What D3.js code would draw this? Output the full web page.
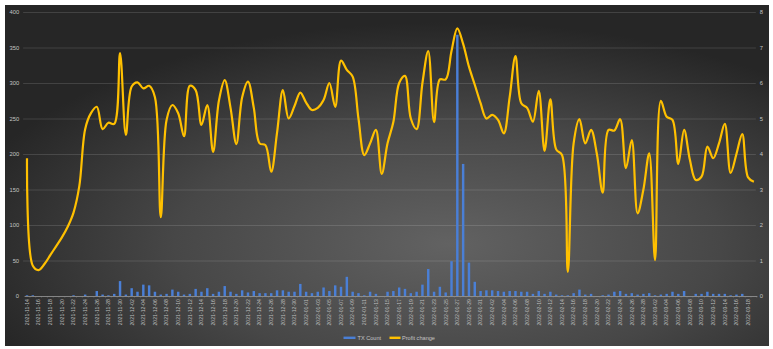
<!DOCTYPE html>
<html><head><meta charset="utf-8">
<script src="https://cdn.jsdelivr.net/npm/d3@7"></script>
<style>
html,body{margin:0;padding:0;background:#fff;}
svg{display:block;font-family:"Liberation Sans",Arial,sans-serif;}
</style></head>
<body><svg id="c" width="773" height="349"></svg>
<script>
const startDate = "2021-11-14";
const endDate = "2022-03-19";
const leftTicks = [0,50,100,150,200,250,300,350,400];
const rightTicks = [0,1,2,3,4,5,6,7,8];
const seriesNames = ["TX Count","Profit change"];

const txCount = [1,1,0,0,0,0,0,0,1,0,2,0,7,2,1,3,21,2,11,6,16,15,6,2,3,9,6,2,3,10,
6,11,3,6,14,6,3,8,5,7,4,4,4,8,8,6,6,17,6,4,6,12,7,15,13,27,6,4,1,6,
3,0,6,7,12,10,4,6,16,38,6,13,5,49,368,186,47,20,7,8,8,7,6,7,7,6,6,3,7,3,
6,2,1,1,4,9,2,3,0,1,2,6,7,3,4,2,3,4,1,2,3,6,3,7,0,3,3,6,3,3,
3,1,2,3,0,0];

const profitChange = [3.88,0.85,0.73,0.9,1.15,1.4,1.65,1.95,2.35,3.1,4.7,5.15,5.33,4.7,4.88,4.85,6.84,4.54,5.9,6.02,
5.85,5.92,5.6,2.22,4.96,5.38,5.15,4.5,5.92,5.8,4.82,5.38,4.06,5.5,6.08,5.3,4.28,5.6,6.04,5.3,
4.3,4.25,3.5,4.6,5.8,5.0,5.35,5.73,5.45,5.24,5.3,5.52,6.0,5.33,6.63,6.37,6.18,5.0,3.97,4.3,
4.68,3.44,4.3,4.9,6.0,6.2,5.0,4.7,6.0,6.9,4.9,6.1,6.1,6.9,7.54,7.1,6.46,5.95,5.43,5.0,
5.1,4.96,4.58,5.6,6.76,5.43,5.3,4.91,5.78,4.09,5.54,4.13,3.97,0.68,4.3,4.98,4.3,4.68,4.0,2.91,
4.68,4.66,4.98,3.6,4.39,2.33,3.0,4.02,1.01,5.5,5.05,4.96,3.72,4.68,3.83,3.27,3.36,4.21,3.88,4.3,
4.85,3.47,4.0,4.56,3.34,3.22];

const fmt = d3.utcFormat("%Y-%m-%d");
const parse = d3.utcParse("%Y-%m-%d");
const dates = d3.utcDay.range(parse(startDate), d3.utcDay.offset(parse(endDate),1)).map(fmt);
const data = dates.map((d,i)=>({date:d, tx:txCount[i], profit:profitChange[i]}));

const svg = d3.select("#c");
const defs = svg.append("defs");
const rg = defs.append("radialGradient").attr("id","bg")
  .attr("cx","58%").attr("cy","70%").attr("r","65%");
rg.append("stop").attr("offset","0%").attr("stop-color","#626262");
rg.append("stop").attr("offset","55%").attr("stop-color","#474747");
rg.append("stop").attr("offset","100%").attr("stop-color","#262626");

svg.append("rect").attr("x",5).attr("y",5).attr("width",764).attr("height",341).attr("fill","url(#bg)");

const x0 = 24.1, x1 = 756.8, yTop = 12, yBot = 296;
const x = d3.scaleBand().domain(dates).range([x0,x1]).paddingInner(0.58).paddingOuter(0.29);
const yL = d3.scaleLinear().domain([0,400]).range([yBot,yTop]);
const yR = d3.scaleLinear().domain([0,8]).range([yBot,yTop]);

// gridlines
svg.append("g").selectAll("line").data(leftTicks.slice(1)).join("line")
  .attr("x1",x0-1).attr("x2",x1-1).attr("y1",d=>yL(d)+0.5).attr("y2",d=>yL(d)+0.5)
  .attr("stroke","#ffffff").attr("stroke-opacity",0.13).attr("stroke-width",1);

// left axis
const gl = svg.append("g").attr("transform",`translate(${x0-5},0)`)
  .call(d3.axisLeft(yL).tickValues(leftTicks).tickSize(0).tickPadding(0));
gl.select(".domain").remove();
gl.selectAll("text").attr("fill","#c4c4c4").attr("font-size","5.8px");

// right axis
const gr = svg.append("g").attr("transform",`translate(${x1+3},0)`)
  .call(d3.axisRight(yR).tickValues(rightTicks).tickSize(0).tickPadding(0));
gr.select(".domain").remove();
gr.selectAll("text").attr("fill","#c4c4c4").attr("font-size","5.8px");

// bars
svg.append("g").selectAll("rect").data(data).join("rect")
  .attr("x",d=>x(d.date)).attr("width",x.bandwidth())
  .attr("y",d=>yL(d.tx)).attr("height",d=>yBot-yL(d.tx))
  .attr("fill","#4a7fd6");

// x axis
const gx = svg.append("g").attr("transform",`translate(0,${yBot})`)
  .call(d3.axisBottom(x).tickValues(dates.filter((d,i)=>i%2===0)).tickSize(0).tickPadding(0));
gx.select(".domain").attr("stroke","#9a9a9a").attr("stroke-width",0.8);
gx.selectAll("text")
  .attr("fill","#bdbdbd").attr("font-size","5.2px")
  .attr("text-anchor","end")
  .attr("transform","rotate(-90)")
  .attr("x",-3).attr("y",0).attr("dy","0.35em");
svg.append("g").selectAll("line").data(dates).join("line")
  .attr("x1",d=>x(d)+x.bandwidth()/2+x.step()/2).attr("x2",d=>x(d)+x.bandwidth()/2+x.step()/2)
  .attr("y1",yBot).attr("y2",yBot+1.5).attr("stroke","#8a8a8a").attr("stroke-width",0.5);

// line
const line = d3.line().x(d=>x(d.date)+x.bandwidth()/2).y(d=>yR(d.profit)).curve(d3.curveCatmullRom.alpha(0.5));
svg.append("path").datum(data).attr("d",line)
  .attr("fill","none").attr("stroke","#ffc000").attr("stroke-width",2.2).attr("stroke-linejoin","round");

// legend
const lg = svg.append("g");
lg.append("rect").attr("x",343.5).attr("y",336.6).attr("width",12).attr("height",2.4).attr("fill","#4a7fd6");
lg.append("text").attr("x",357.5).attr("y",339.5).text(seriesNames[0]).attr("fill","#c4c4c4").attr("font-size","5.6px");
lg.append("rect").attr("x",389.5).attr("y",336.6).attr("width",11).attr("height",2.4).attr("fill","#ffc000");
lg.append("text").attr("x",402).attr("y",339.5).text(seriesNames[1]).attr("fill","#c4c4c4").attr("font-size","5.6px");
</script></body></html>
